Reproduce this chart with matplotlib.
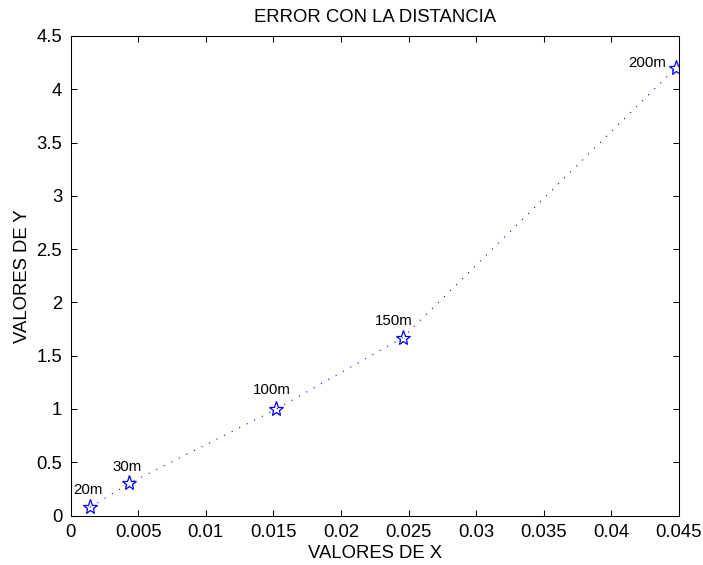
import matplotlib
matplotlib.use("Agg")
import matplotlib.pyplot as plt
from matplotlib.ticker import FuncFormatter

plt.rcParams['font.family'] = ['Liberation Sans', 'DejaVu Sans']

# Data
x_vals = [0.00146, 0.00435, 0.0152, 0.02457, 0.04478]
y_vals = [0.077, 0.302, 0.997, 1.669, 4.203]
point_labels = ["20m", "30m", "100m", "150m", "200m"]
x_ticks = [0, 0.005, 0.01, 0.015, 0.02, 0.025, 0.03, 0.035, 0.04, 0.045]
y_ticks = [0, 0.5, 1, 1.5, 2, 2.5, 3, 3.5, 4, 4.5]

# label offsets (points) relative to each marker
label_offsets = [(-2.0, 12.5), (-1.7, 11.7), (-2.9, 13.9), (-6.3, 12.0), (-20.5, 3.7)]

fig = plt.figure(figsize=(7.03, 5.65), dpi=100)
ax = fig.add_axes([70.5/703, 1-515.5/565, 608.5/703, 479.5/565])

ax.plot(x_vals, y_vals, color='blue', linewidth=0.8, linestyle=(0, (1, 6.6)))
ax.plot(x_vals, y_vals, linestyle='none', marker='*', markersize=11,
        markerfacecolor='none', markeredgecolor='blue', markeredgewidth=0.9)

for xv, yv, lab, off in zip(x_vals, y_vals, point_labels, label_offsets):
    ax.annotate(lab, (xv, yv), xytext=off, textcoords='offset points',
                ha='center', va='center', fontsize=10.8, color='black')

ax.set_xlim(0, 0.045)
ax.set_ylim(0, 4.5)
ax.set_xticks(x_ticks)
ax.set_yticks(y_ticks)
fmt = FuncFormatter(lambda v, p: '%g' % round(v, 6))
ax.xaxis.set_major_formatter(fmt)
ax.yaxis.set_major_formatter(fmt)
ax.tick_params(direction='in', length=4.5, width=0.75, top=True, right=True,
               labelsize=13.3, pad=6)
for s in ax.spines.values():
    s.set_linewidth(0.75)

ax.set_title('ERROR CON LA DISTANCIA', fontsize=13.3, pad=10)
ax.set_xlabel('VALORES DE X', fontsize=13.3, labelpad=3)
ax.set_ylabel('VALORES DE Y', fontsize=13.3, labelpad=4)

fig.savefig('out.png', dpi=100)
